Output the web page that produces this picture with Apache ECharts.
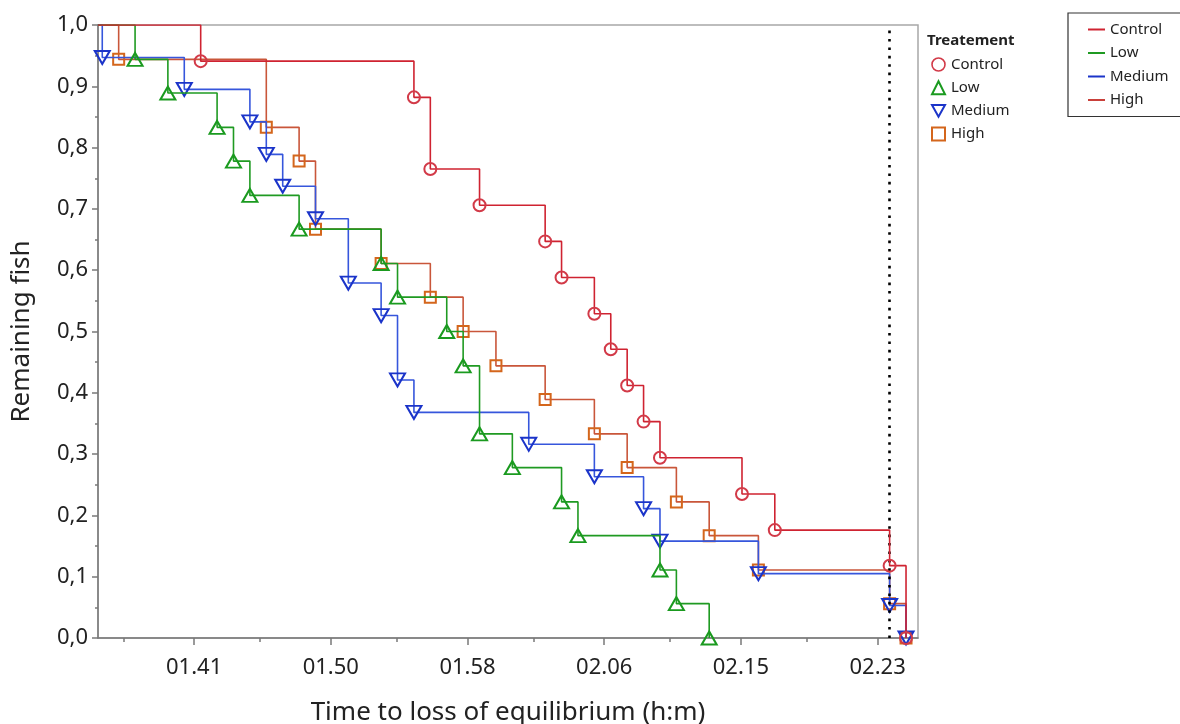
<!DOCTYPE html>
<html>
<head>
<meta charset="utf-8">
<script src="https://cdn.jsdelivr.net/npm/echarts@6/dist/echarts.min.js"></script>
<style>
  html, body { margin: 0; padding: 0; background: #fff; }
  #survival-plot { width: 1180px; height: 724px; }
</style>
</head>
<body>
<div id="survival-plot"></div>
<script>
// time to loss of equilibrium, minutes after 00:00
var controlTimes = [102, 115, 116, 119, 123, 124, 126, 127, 128, 129, 130, 135, 137, 144, 145];
var controlSurv  = [0.941, 0.882, 0.765, 0.706, 0.647, 0.588, 0.529, 0.471, 0.412, 0.353, 0.294, 0.235, 0.176, 0.118, 0];

var lowTimes = [98, 100, 103, 104, 105, 108, 113, 114, 117, 118, 119, 121, 124, 125, 130, 131, 133];
var lowSurv  = [0.944, 0.889, 0.833, 0.778, 0.722, 0.667, 0.611, 0.556, 0.5, 0.444, 0.333, 0.278, 0.222, 0.167, 0.111, 0.056, 0];

var mediumTimes = [96, 101, 105, 106, 107, 109, 111, 113, 114, 115, 122, 126, 129, 130, 136, 144, 145];
var mediumSurv  = [0.947, 0.895, 0.842, 0.789, 0.737, 0.684, 0.579, 0.526, 0.421, 0.368, 0.316, 0.263, 0.211, 0.158, 0.105, 0.053, 0];

var highTimes = [97, 106, 108, 109, 113, 116, 118, 120, 123, 126, 128, 131, 133, 136, 144, 145];
var highSurv  = [0.944, 0.833, 0.778, 0.667, 0.611, 0.556, 0.5, 0.444, 0.389, 0.333, 0.278, 0.222, 0.167, 0.111, 0.056, 0];

var xTickValues = [101.6, 109.93, 118.27, 126.6, 134.93, 143.27];
var xTickLabels = ['01.41', '01.50', '01.58', '02.06', '02.15', '02.23'];
var xMinorTicks = [97.3, 105.6, 113.95, 122.3, 130.6, 138.95];
var cutoffTime = 144;

var xMin = 95.74, xMax = 145.73;
var fontFamily = '"Noto Sans", "Open Sans", sans-serif';
var downTriangle = 'path://M0,0L10,0L5,9Z';

function buildSeries(name, times, surv, symbol, size, lineColor, markColor, z) {
	var data = [{ value: [xMin, 1], symbol: 'none' }];
	for (var i = 0; i < times.length; i++) {
		data.push([times[i], surv[i]]);
	}
	return {
		name: name,
		type: 'line',
		step: 'end',
		data: data,
		symbol: symbol,
		symbolSize: size,
		showAllSymbol: true,
		z: z,
		lineStyle: { color: lineColor, width: 1.6 },
		itemStyle: { color: 'rgba(255,255,255,0)', borderColor: markColor, borderWidth: 2 },
		emphasis: { disabled: true }
	};
}

function survivalPlot() {
	var chart = echarts.init(document.getElementById('survival-plot'));

	var series = [
		buildSeries('Control', controlTimes, controlSurv, 'circle', 12, '#cf2331', '#d23a48', 5),
		buildSeries('Low', lowTimes, lowSurv, 'triangle', [15, 13], '#1f9a22', '#1a9a1f', 4),
		buildSeries('Medium', mediumTimes, mediumSurv, downTriangle, [15, 13], '#3656dc', '#1b34c9', 3),
		buildSeries('High', highTimes, highSurv, 'rect', 11, '#c9563a', '#d4661c', 2)
	];
	// dotted reference line
	series[0].markLine = {
		silent: true,
		symbol: 'none',
		label: { show: false },
		lineStyle: { color: '#000', width: 2.6, type: [2.6, 5.8] },
		data: [{ xAxis: cutoffTime }]
	};

	var option = {
		animation: false,
		textStyle: { fontFamily: fontFamily },
		title: {
			text: 'Treatement',
			left: 927, top: 33, padding: 0,
			textStyle: { fontSize: 15, fontWeight: 'bold', color: '#222', fontFamily: fontFamily }
		},
		grid: {
			left: 98, right: 262, top: 25, bottom: 86,
			outerBoundsMode: 'none',
			show: true, borderColor: '#a8a8a8', borderWidth: 1.5
		},
		legend: [{
			orient: 'vertical',
			left: 926, top: 52,
			itemWidth: 13, itemHeight: 13, itemGap: 8.2,
			selectedMode: false,
			textStyle: { fontSize: 15, color: '#222', padding: [0, 0, 0, 1] },
			data: [
				{ name: 'Control', icon: 'circle', itemStyle: { color: 'rgba(255,255,255,0)', borderColor: '#d23a48', borderWidth: 1.6 } },
				{ name: 'Low', icon: 'triangle', itemStyle: { color: 'rgba(255,255,255,0)', borderColor: '#1a9a1f', borderWidth: 2 } },
				{ name: 'Medium', icon: downTriangle, itemStyle: { color: 'rgba(255,255,255,0)', borderColor: '#1b34c9', borderWidth: 2 } },
				{ name: 'High', icon: 'rect', itemStyle: { color: 'rgba(255,255,255,0)', borderColor: '#d4661c', borderWidth: 2 } }
			]
		}, {
			orient: 'vertical',
			left: 1068, top: 13,
			padding: [9, 16, 9, 20],
			borderColor: '#333', borderWidth: 1.2,
			itemWidth: 17, itemHeight: 2, itemGap: 8.5,
			selectedMode: false,
			textStyle: { fontSize: 15, color: '#222', lineHeight: 15 },
			data: [
				{ name: 'Control', icon: 'rect', itemStyle: { color: '#cf2331', borderWidth: 0 } },
				{ name: 'Low', icon: 'rect', itemStyle: { color: '#1f9a22', borderWidth: 0 } },
				{ name: 'Medium', icon: 'rect', itemStyle: { color: '#1b34c9', borderWidth: 0 } },
				{ name: 'High', icon: 'rect', itemStyle: { color: '#c9403a', borderWidth: 0 } }
			]
		}],
		xAxis: [{
			type: 'value',
			min: xMin, max: xMax,
			name: 'Time to loss of equilibrium (h:m)',
			nameLocation: 'middle',
			nameGap: 62,
			nameTextStyle: { fontSize: 26, color: '#222' },
			splitLine: { show: false },
			axisLine: { lineStyle: { color: '#7a7a7a', width: 1.5 } },
			axisTick: { customValues: xTickValues, length: 7, lineStyle: { color: '#7a7a7a', width: 1.5 } },
			axisLabel: {
				customValues: xTickValues,
				margin: 19,
				fontSize: 22,
				color: '#222',
				formatter: function (v) {
					var best = 0;
					for (var i = 1; i < xTickValues.length; i++) {
						if (Math.abs(xTickValues[i] - v) < Math.abs(xTickValues[best] - v)) best = i;
					}
					return xTickLabels[best];
				}
			}
		}, {
			// minor ticks
			type: 'value',
			position: 'bottom',
			min: xMin, max: xMax,
			splitLine: { show: false },
			axisLine: { show: false },
			axisLabel: { show: false },
			axisTick: { customValues: xMinorTicks, length: 4, lineStyle: { color: '#7a7a7a', width: 1.5 } }
		}],
		yAxis: {
			type: 'value',
			min: 0, max: 1, interval: 0.1,
			name: 'Remaining fish',
			nameLocation: 'middle',
			nameGap: 63,
			nameTextStyle: { fontSize: 26, color: '#222' },
			splitLine: { show: false },
			axisLine: { show: true, lineStyle: { color: '#7a7a7a', width: 1.5 } },
			axisTick: { length: 6, lineStyle: { color: '#7a7a7a', width: 1.5 } },
			minorTick: { show: true, splitNumber: 2, length: 3, lineStyle: { color: '#7a7a7a', width: 1.5 } },
			axisLabel: {
				margin: 10,
				fontSize: 22,
				color: '#222',
				formatter: function (v) { return v.toFixed(1).replace('.', ','); }
			}
		},
		series: series
	};

	chart.setOption(option);
}

survivalPlot();
</script>
</body>
</html>
